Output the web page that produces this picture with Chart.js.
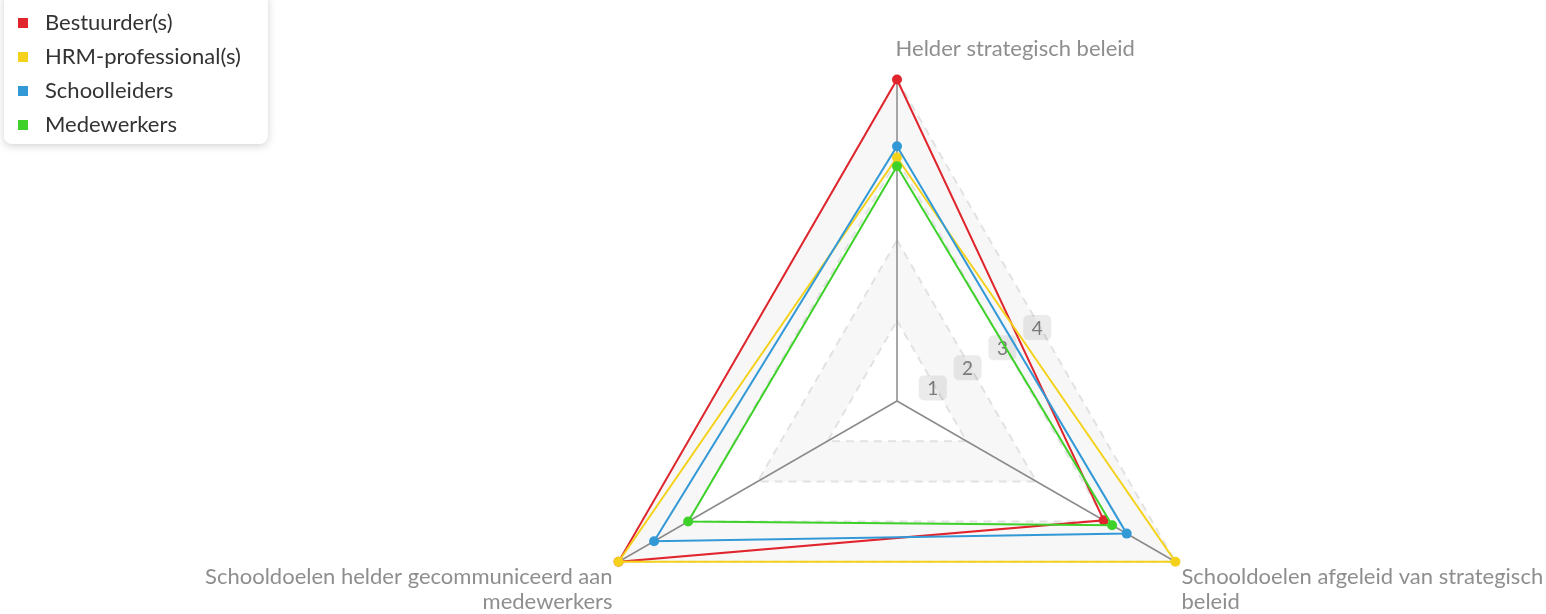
<!DOCTYPE html>
<html lang="nl">
<head>
    <meta charset="UTF-8">
    <title>Strategisch beleid - radar</title>
    <script src="https://cdn.jsdelivr.net/npm/chart.js"></script>
    <style>
        html, body {
            margin: 0;
            padding: 0;
            background: #fff;
            overflow: hidden;
        }

        /* canvas is larger than the window on purpose, so the radar gets the same size/place as the original */
        #chartContainer {
            position: relative;
            width: 1794px;
            height: 750px;
        }
    </style>
</head>
<body>
    <div id="chartContainer">
        <canvas id="radarChart"></canvas>
    </div>

    <script>
        // categories (axes)
        const categories = [
            'Helder strategisch beleid',
            ['Schooldoelen afgeleid van strategisch', 'beleid'],
            ['Schooldoelen helder gecommuniceerd aan', 'medewerkers']
        ];

        // series
        const seriesNames = ['Bestuurder(s)', 'HRM-professional(s)', 'Schoolleiders', 'Medewerkers'];
        const bestuurders = [4, 2.97, 4];
        const hrmProfessionals = [3.03, 4, 4];
        const schoolleiders = [3.17, 3.3, 3.49];
        const medewerkers = [2.92, 3.09, 3.0];
        const seriesColors = ['#e0252d', '#f4d21c', '#3399d6', '#3dd12a'];

        // scale
        const scaleMin = 0;
        const scaleMax = 4;
        const shadedBands = [[1, 2], [3, 4]];

        const seriesValues = [bestuurders, hrmProfessionals, schoolleiders, medewerkers];

        const labelFontSize = 22;

        // the top label is left-aligned in the original, pad it with spaces so the centered text starts at the axis
        const measureCtx = document.createElement('canvas').getContext('2d');
        measureCtx.font = labelFontSize + 'px Lato';
        function padLeft(text) {
            const n = Math.round(measureCtx.measureText(text).width / measureCtx.measureText(' ').width);
            return ' '.repeat(n) + text;
        }
        const axisLabels = categories.map((c, i) => i === 0 ? padLeft(c) : c);

        function polygonPath(ctx, scale, value) {
            for (let i = 0; i < categories.length; i++) {
                const p = scale.getPointPositionForValue(i, value);
                if (i === 0) ctx.moveTo(p.x, p.y); else ctx.lineTo(p.x, p.y);
            }
            ctx.closePath();
        }

        // white legend card with a soft shadow + light bands between grid levels
        const backgroundPlugin = {
            id: 'backgroundPlugin',
            beforeDraw(chart) {
                const ctx = chart.ctx;
                const lg = chart.legend;
                if (lg && lg.legendHitBoxes && lg.legendHitBoxes.length) {
                    const boxes = lg.legendHitBoxes;
                    const right = Math.max(...boxes.map(b => b.left + b.width)) + 27;
                    const last = boxes[boxes.length - 1];
                    const bottom = last.top + last.height + 8;
                    ctx.save();
                    ctx.shadowColor = 'rgba(0, 0, 0, 0.18)';
                    ctx.shadowBlur = 8;
                    ctx.shadowOffsetY = 2;
                    ctx.fillStyle = '#fff';
                    ctx.beginPath();
                    ctx.roundRect(4, -8, right - 4, bottom + 8, 8);
                    ctx.fill();
                    ctx.restore();
                }

                const scale = chart.scales.r;
                ctx.save();
                ctx.fillStyle = 'rgba(0, 0, 0, 0.03)';
                shadedBands.forEach(([lo, hi]) => {
                    ctx.beginPath();
                    polygonPath(ctx, scale, hi);
                    polygonPath(ctx, scale, lo);
                    ctx.fill('evenodd');
                });
                ctx.restore();
            }
        };

        // tick labels sit on the middle of the right-hand edge of each grid triangle
        const tickLabelPlugin = {
            id: 'tickLabelPlugin',
            beforeDatasetsDraw(chart) {
                const scale = chart.scales.r;
                const ctx = chart.ctx;
                ctx.save();
                ctx.font = '19px Lato';
                ctx.textAlign = 'center';
                ctx.textBaseline = 'middle';
                scale.ticks.forEach(t => {
                    if (t.value <= scaleMin) return;
                    const a = scale.getPointPositionForValue(0, t.value);
                    const b = scale.getPointPositionForValue(1, t.value);
                    const x = (a.x + b.x) / 2 + 1;
                    const y = (a.y + b.y) / 2 + 7;
                    const w = ctx.measureText(t.label).width + 17;
                    const h = 25;
                    ctx.fillStyle = 'rgba(0, 0, 0, 0.08)';
                    ctx.beginPath();
                    ctx.roundRect(x - w / 2, y - h / 2, w, h, 5);
                    ctx.fill();
                    ctx.fillStyle = '#7a7a7a';
                    ctx.fillText(t.label, x, y + 1);
                });
                ctx.restore();
            }
        };

        const ctx = document.getElementById('radarChart').getContext('2d');
        const radarChart = new Chart(ctx, {
            type: 'radar',
            data: {
                labels: axisLabels,
                datasets: seriesNames.map((name, i) => ({
                    label: name,
                    data: seriesValues[i],
                    borderColor: seriesColors[i],
                    backgroundColor: seriesColors[i],
                    pointBackgroundColor: seriesColors[i],
                    pointBorderColor: seriesColors[i],
                    pointBorderWidth: 0,
                    pointRadius: 5,
                    borderWidth: 2,
                    fill: false,
                    order: seriesNames.length - i  // later series on top
                }))
            },
            options: {
                responsive: true,
                maintainAspectRatio: false,
                animation: false,
                scales: {
                    r: {
                        min: scaleMin,
                        max: scaleMax,
                        ticks: { display: false, stepSize: 1 },
                        grid: { color: '#e2e2e2', lineWidth: 2 },
                        border: { dash: [8, 6] },
                        angleLines: { color: '#8a8a8a', lineWidth: 1.5 },
                        pointLabels: {
                            color: '#8e8e8e',
                            padding: (c) => c.index === 0 ? 7.5 : 7,
                            font: (c) => c.index === 0
                                ? { family: 'Lato', size: labelFontSize, lineHeight: 2.0909 }
                                : { family: 'Lato', size: labelFontSize, lineHeight: 1.1 }
                        }
                    }
                },
                plugins: {
                    legend: {
                        position: 'chartArea',
                        align: 'start',
                        labels: {
                            usePointStyle: true,
                            pointStyle: 'rect',
                            boxHeight: 10,
                            padding: 12,
                            color: '#333',
                            font: { family: 'Lato', size: 22 },
                            sort: (a, b) => a.datasetIndex - b.datasetIndex
                        }
                    },
                    tooltip: { enabled: false }
                }
            },
            plugins: [backgroundPlugin, tickLabelPlugin]
        });
    </script>
</body>
</html>
